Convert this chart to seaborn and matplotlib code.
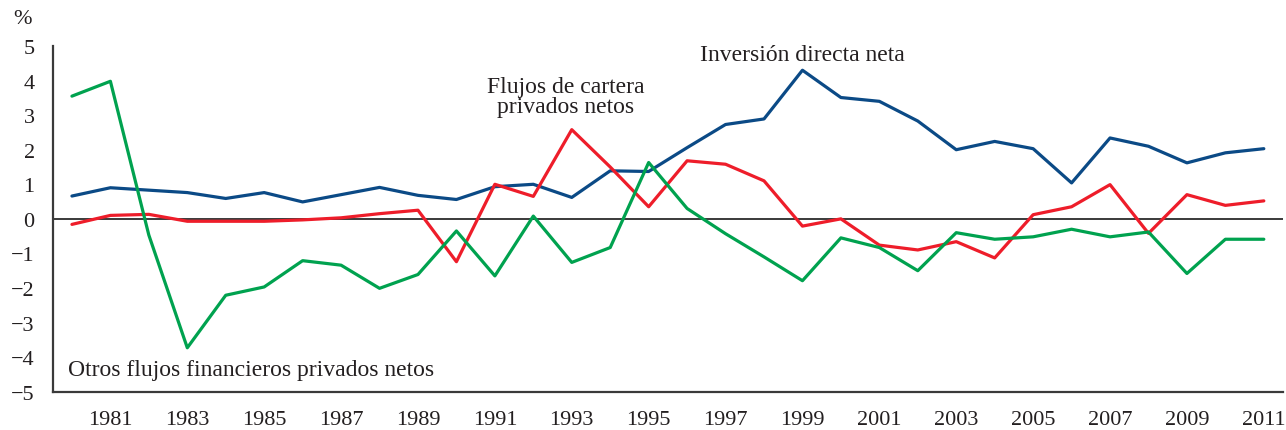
import numpy as np
import pandas as pd
import matplotlib
matplotlib.use("Agg")
import matplotlib.pyplot as plt
import seaborn as sns

years = list(range(1980, 2012))

inversion_directa = [0.66, 0.90, 0.83, 0.76, 0.59, 0.76, 0.49, 0.70, 0.91, 0.68,
                     0.56, 0.93, 1.00, 0.62, 1.39, 1.37, 2.06, 2.73, 2.89, 4.30,
                     3.51, 3.40, 2.83, 2.00, 2.24, 2.03, 1.04, 2.34, 2.10, 1.62,
                     1.91, 2.03]
flujos_cartera = [-0.16, 0.10, 0.13, -0.07, -0.07, -0.07, -0.03, 0.03, 0.15, 0.25,
                  -1.24, 1.00, 0.65, 2.58, 1.50, 0.35, 1.68, 1.58, 1.10, -0.21,
                  0.00, -0.76, -0.90, -0.66, -1.13, 0.12, 0.35, 0.99, -0.42, 0.70,
                  0.39, 0.52]
otros_flujos = [3.55, 3.98, -0.47, -3.73, -2.21, -1.97, -1.21, -1.34, -2.01, -1.61,
                -0.35, -1.65, 0.08, -1.26, -0.83, 1.63, 0.30, -0.43, -1.10, -1.79,
                -0.55, -0.83, -1.50, -0.40, -0.59, -0.52, -0.30, -0.52, -0.38, -1.58,
                -0.59, -0.59]

series_names = ["Inversión directa neta", "Flujos de cartera privados netos",
                "Otros flujos financieros privados netos"]
colors = ["#0b4a86", "#ee1d2a", "#00a24f"]

y_ticks = [5, 4, 3, 2, 1, 0, -1, -2, -3, -4, -5]
x_labels = [str(y) for y in range(1981, 2012, 2)]

df = pd.DataFrame({
    "year": years * 3,
    "value": inversion_directa + flujos_cartera + otros_flujos,
    "serie": sum([[n] * len(years) for n in series_names], []),
})
df["x"] = df["year"] + 0.5

sns.set_style("white")
plt.rcParams["font.family"] = ["Liberation Serif", "DejaVu Serif"]
plt.rcParams["text.color"] = "#231f20"

fig = plt.figure(figsize=(12.86, 4.31), dpi=100)
ax = fig.add_axes([0.041, 0.0889, 0.9567, 0.802])

ax.axhline(0, color="#3a3a3a", lw=1.4, zorder=1)
sns.lineplot(data=df, x="x", y="value", hue="serie", palette=dict(zip(series_names, colors)),
             hue_order=series_names, lw=2.3, legend=False, ax=ax, zorder=3)

ax.set_xlim(1980, 2012)
ax.set_ylim(-5, 5)
ax.set_xlabel("")
ax.set_ylabel("")

for s in ["top", "right"]:
    ax.spines[s].set_visible(False)
for s in ["left", "bottom"]:
    ax.spines[s].set_color("#3a3a3a")
    ax.spines[s].set_linewidth(1.6)

ax.set_yticks(y_ticks)
ax.set_yticklabels([str(v).replace("-", "\u2212") for v in y_ticks], fontsize=16)
ax.tick_params(axis="y", direction="out", length=7, width=1.4, color="#3a3a3a",
               pad=6, labelcolor="#231f20")

ax.set_xticks(np.arange(1980, 2013))
ax.set_xticklabels([])
ax.tick_params(axis="x", which="major", direction="out", length=7, width=1.4, color="#3a3a3a")
ax.set_xticks([int(l) + 0.5 for l in x_labels], minor=True)
ax.set_xticklabels(x_labels, minor=True, fontsize=16)
ax.tick_params(axis="x", which="minor", length=0, pad=13, labelcolor="#231f20")

ax.text(1999.5, 4.75, "Inversión directa neta", ha="center", va="center", fontsize=17)
ax.text(1993.35, 3.55, "Flujos de cartera\nprivados netos", ha="center", va="center",
        fontsize=17, linespacing=0.95)
ax.text(1980.4, -4.35, "Otros flujos financieros privados netos", ha="left", va="center",
        fontsize=17)
fig.text(22 / 1286, 1 - 20 / 431, "%", ha="center", va="center", fontsize=16)

fig.savefig("out.png", dpi=100)
